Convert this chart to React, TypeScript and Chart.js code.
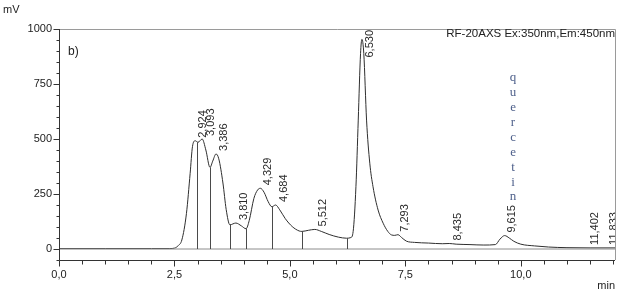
import React, { useEffect, useRef } from "react";
import { Chart, registerables } from "chart.js";

Chart.register(...registerables);

// ---- data ----
const curveTimes = [
  0, 1.0, 2.0, 2.4, 2.5, 2.58, 2.66, 2.76, 2.84, 2.89, 2.95, 3.01, 3.1, 3.18, 3.27, 3.33, 3.4, 3.46,
  3.55, 3.62, 3.7, 3.83, 3.95, 4.05, 4.12, 4.22, 4.3, 4.36, 4.44, 4.53, 4.61, 4.69, 4.78, 4.9,
  5.05, 5.2, 5.26, 5.4, 5.54, 5.68, 5.85, 6.05, 6.23, 6.32, 6.37, 6.43, 6.48, 6.53, 6.56, 6.6,
  6.66, 6.73, 6.8, 6.91, 7.02, 7.12, 7.2, 7.27, 7.34, 7.42, 7.52, 7.7, 8.0, 8.3, 8.45, 8.6, 8.9,
  9.2, 9.45, 9.55, 9.65, 9.75, 9.85, 10.0, 10.3, 10.6, 11.0, 11.5, 12.04,
];
const curveValues = [
  2, 2, 2, 2, 4, 15, 41, 162, 344, 465, 492, 485, 500, 450, 371, 400, 432, 410,
  300, 180, 110, 118, 105, 92, 130, 230, 268, 276, 258, 215, 192, 200, 178, 138,
  102, 82, 80, 85, 89, 80, 66, 54, 49, 52, 80, 283, 586, 889, 953, 889,
  586, 390, 283, 177, 117, 80, 64, 62, 65, 52, 36, 30, 27, 24, 25, 22, 20,
  18, 20, 45, 61, 50, 35, 22, 14, 9, 6, 5, 5,
];
const dropTimes = [2.99, 3.27, 3.71, 4.05, 4.61, 5.26, 6.23];
const dropValues = [485, 371, 110, 92, 192, 80, 49];

const peakTimes = [2.924, 3.093, 3.386, 3.81, 4.329, 4.684, 5.512, 6.53, 7.293, 8.435, 9.615, 11.402, 11.833];
const peakLabels = ["2,924", "3,093", "3,386", "3,810", "4,329", "4,684", "5,512", "6,530", "7,293", "8,435", "9,615", "11,402", "11,833"];
const peakHeights = [492, 500, 432, 118, 276, 200, 89, 953, 65, 25, 61, 5, 5];

const annotationWord = "quercetin";
const annotationPeak = 9.615;

const xTicks = [0, 0.5, 1, 1.5, 2, 2.5, 3, 3.5, 4, 4.5, 5, 5.5, 6, 6.5, 7, 7.5, 8, 8.5, 9, 9.5, 10, 10.5, 11, 11.5, 12];
const xMajorTicks = [0, 2.5, 5, 7.5, 10];
const yTicks = [-50, 0, 50, 100, 150, 200, 250, 300, 350, 400, 450, 500, 550, 600, 650, 700, 750, 800, 850, 900, 950, 1000];
const yMajorTicks = [0, 250, 500, 750, 1000];
const xMin = 0;
const xMax = 12.04;
const yMin = -50;
const yMax = 1000;

const FONT = "'Liberation Sans', Arial, sans-serif";

export default function App() {
  const canvasRef = useRef<HTMLCanvasElement | null>(null);

  useEffect(() => {
    document.body.style.margin = "0";
    const canvas = canvasRef.current;
    if (!canvas) return;

    const overlay = {
      id: "chromOverlay",
      afterDatasetsDraw(chart: any) {
        const { ctx, chartArea, scales } = chart;
        const xs = scales.x;
        const ys = scales.y;
        ctx.save();
        // drop lines
        ctx.strokeStyle = "#4a4a4a";
        ctx.lineWidth = 1;
        dropTimes.forEach((t, i) => {
          const px = Math.round(xs.getPixelForValue(t)) + 0.5;
          ctx.beginPath();
          ctx.moveTo(px, ys.getPixelForValue(0));
          ctx.lineTo(px, ys.getPixelForValue(dropValues[i]));
          ctx.stroke();
        });
        // peak labels
        ctx.beginPath();
        ctx.rect(chartArea.left, chartArea.top, chartArea.right - chartArea.left, chartArea.bottom - chartArea.top);
        ctx.clip();
        ctx.font = `11px ${FONT}`;
        ctx.fillStyle = "#2a2a2a";
        let annTop = 0;
        let annX = 0;
        peakTimes.forEach((t, i) => {
          const label = peakLabels[i];
          const w = ctx.measureText(label).width;
          const px = xs.getPixelForValue(t) + 9;
          let sy = ys.getPixelForValue(peakHeights[i]) - 3;
          if (sy - w < chartArea.top + 1) sy = chartArea.top + 1 + w;
          ctx.save();
          ctx.translate(px, sy);
          ctx.rotate(-Math.PI / 2);
          ctx.textAlign = "left";
          ctx.textBaseline = "middle";
          ctx.fillText(label, 0, 0);
          ctx.restore();
          if (t === annotationPeak) {
            annTop = sy - w;
            annX = px + 1;
          }
        });
        // vertical annotation
        ctx.font = `13px 'Liberation Serif', 'Times New Roman', serif`;
        ctx.fillStyle = "#4d5f8a";
        ctx.textAlign = "center";
        ctx.textBaseline = "middle";
        const letters = annotationWord.split("");
        letters.forEach((ch, k) => {
          const fromBottom = letters.length - 1 - k;
          ctx.fillText(ch, annX, annTop - 8 - fromBottom * 14.9);
        });
        ctx.restore();
      },
      afterDraw(chart: any) {
        const { ctx, chartArea, scales } = chart;
        const xs = scales.x;
        const ys = scales.y;
        const L = chartArea.left;
        const R = chartArea.right;
        const T = chartArea.top;
        const B = chartArea.bottom;
        ctx.save();
        // frame top/right
        ctx.strokeStyle = "#9a9a9a";
        ctx.lineWidth = 1;
        ctx.beginPath();
        ctx.moveTo(L, Math.round(T) + 0.5);
        ctx.lineTo(Math.round(R) + 0.5, Math.round(T) + 0.5);
        ctx.lineTo(Math.round(R) + 0.5, B);
        ctx.stroke();
        // axes
        ctx.strokeStyle = "#333";
        ctx.beginPath();
        ctx.moveTo(Math.round(L) + 0.5, T);
        ctx.lineTo(Math.round(L) + 0.5, Math.round(B) + 0.5);
        ctx.lineTo(R, Math.round(B) + 0.5);
        ctx.stroke();
        // x ticks
        ctx.beginPath();
        xTicks.forEach((v) => {
          const px = Math.round(xs.getPixelForValue(v)) + 0.5;
          const len = xMajorTicks.includes(v) ? 6 : 4;
          ctx.moveTo(px, Math.round(B) + 0.5);
          ctx.lineTo(px, Math.round(B) + 0.5 + len);
        });
        // y ticks
        yTicks.forEach((v) => {
          const py = Math.round(ys.getPixelForValue(v)) + 0.5;
          const len = yMajorTicks.includes(v) ? 6 : 3;
          ctx.moveTo(Math.round(L) + 0.5, py);
          ctx.lineTo(Math.round(L) + 0.5 - len, py);
        });
        ctx.stroke();
        // texts
        ctx.fillStyle = "#222";
        ctx.font = `11px ${FONT}`;
        ctx.textBaseline = "middle";
        ctx.textAlign = "left";
        ctx.fillText("mV", 3, 10);
        ctx.font = `12px ${FONT}`;
        ctx.fillText("b)", L + 9, 52);
        ctx.font = `11.5px ${FONT}`;
        ctx.textAlign = "right";
        ctx.fillText("RF-20AXS Ex:350nm,Em:450nm", R, T + 5);
        ctx.font = `11px ${FONT}`;
        ctx.fillText("min", R, 286);
        ctx.restore();
      },
    };

    const chart = new Chart(canvas, {
      type: "line",
      data: {
        datasets: [
          {
            label: "baseline",
            data: [
              { x: xMin, y: 0 },
              { x: xMax, y: 0 },
            ],
            borderColor: "#8c8c8c",
            borderWidth: 1,
            pointRadius: 0,
            fill: false,
          },
          {
            label: "signal",
            data: curveTimes.map((t, i) => ({ x: t, y: curveValues[i] })),
            borderColor: "#2e2e2e",
            borderWidth: 1,
            pointRadius: 0,
            fill: false,
            cubicInterpolationMode: "monotone",
          },
        ],
      },
      options: {
        animation: false,
        responsive: false,
        maintainAspectRatio: false,
        layout: { padding: { top: 29, right: 13, left: 0, bottom: 0 } },
        plugins: { legend: { display: false }, tooltip: { enabled: false } },
        scales: {
          x: {
            type: "linear",
            min: xMin,
            max: xMax,
            afterBuildTicks: (scale: any) => {
              scale.ticks = xTicks.map((v) => ({ value: v }));
            },
            afterFit: (scale: any) => {
              scale.height = 37;
            },
            grid: { display: false, drawTicks: false },
            border: { display: false },
            ticks: {
              autoSkip: false,
              maxRotation: 0,
              padding: 8,
              color: "#222",
              font: { family: FONT, size: 11 },
              callback: (v: any) => (xMajorTicks.includes(Number(v)) ? Number(v).toFixed(1).replace(".", ",") : ""),
            },
          },
          y: {
            type: "linear",
            min: yMin,
            max: yMax,
            afterBuildTicks: (scale: any) => {
              scale.ticks = yTicks.map((v) => ({ value: v }));
            },
            afterFit: (scale: any) => {
              scale.width = 59;
            },
            grid: { display: false, drawTicks: false },
            border: { display: false },
            ticks: {
              autoSkip: false,
              padding: 7,
              color: "#222",
              font: { family: FONT, size: 11 },
              callback: (v: any) => (yMajorTicks.includes(Number(v)) ? String(v) : ""),
            },
          },
        },
      },
      plugins: [overlay],
    } as any);

    return () => chart.destroy();
  }, []);

  return (
    <div style={{ width: 628, height: 297, position: "relative", background: "#fff" }}>
      <canvas ref={canvasRef} width={628} height={297} style={{ display: "block" }} />
    </div>
  );
}
